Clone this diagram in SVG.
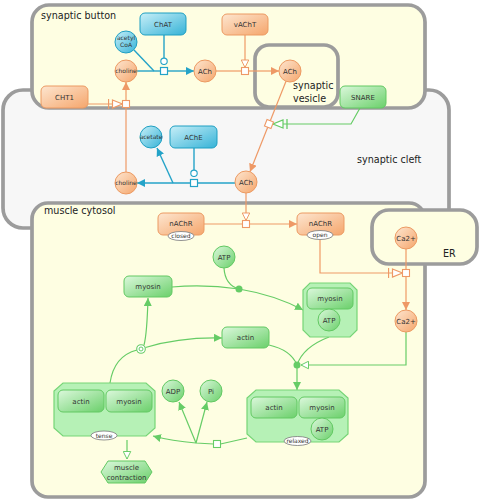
<svg xmlns="http://www.w3.org/2000/svg" width="479" height="500" viewBox="0 0 479 500">
<defs>
<style>
.comp{fill:#fefee2;stroke:#9c9c9c;stroke-width:3.7}
.cleft{fill:#f7f7f7;stroke:#9c9c9c;stroke-width:3.7}
.clbl{font-family:'DejaVu Sans',sans-serif;font-size:9.6px;fill:#222}
.o{fill:url(#gO);stroke:#ec9a62;stroke-width:1}
.b{fill:url(#gB);stroke:#1f9fc2;stroke-width:1}
.g{fill:url(#gG);stroke:#62c962;stroke-width:1}
.cx{fill:#b6f1b6;stroke:#76d576;stroke-width:1.2}
.t{font-family:'DejaVu Sans',sans-serif;font-size:7px;text-anchor:middle;fill:#333}
.ts{font-family:'DejaVu Sans',sans-serif;font-size:6px;text-anchor:middle;fill:#333}
.sv{fill:#fff;stroke:#777;stroke-width:0.8}
.lo{fill:none;stroke:#ee9966;stroke-width:1.2}
.lb{fill:none;stroke:#24a3c8;stroke-width:1.4}
.lg{fill:none;stroke:#66cc66;stroke-width:1.2}
.po{fill:#fff;stroke:#ee9966;stroke-width:1.1}
.pb{fill:#fff;stroke:#24a3c8;stroke-width:1.2}
.pg{fill:#fff;stroke:#66cc66;stroke-width:1.1}
</style>
<linearGradient id="gO" x1="0" y1="0" x2="1" y2="1"><stop offset="0" stop-color="#fde6d0"/><stop offset="1" stop-color="#f5a66c"/></linearGradient>
<linearGradient id="gB" x1="0" y1="0" x2="1" y2="1"><stop offset="0" stop-color="#c8eff8"/><stop offset="1" stop-color="#36b3d7"/></linearGradient>
<linearGradient id="gG" x1="0" y1="0" x2="1" y2="1"><stop offset="0" stop-color="#dcf8dc"/><stop offset="1" stop-color="#6bd06b"/></linearGradient>
<marker id="ao" viewBox="0 0 10 10" refX="10" refY="5" markerWidth="8" markerHeight="8" orient="auto" markerUnits="userSpaceOnUse"><path d="M0,0L10,5L0,10z" fill="#ee9966"/></marker>
<marker id="ab" viewBox="0 0 10 10" refX="10" refY="5" markerWidth="8" markerHeight="8" orient="auto" markerUnits="userSpaceOnUse"><path d="M0,0L10,5L0,10z" fill="#24a3c8"/></marker>
<marker id="ag" viewBox="0 0 10 10" refX="10" refY="5" markerWidth="8" markerHeight="8" orient="auto" markerUnits="userSpaceOnUse"><path d="M0,0L10,5L0,10z" fill="#66cc66"/></marker>
<marker id="so" viewBox="-1 -1 12 12" refX="10" refY="5" markerWidth="9" markerHeight="9" orient="auto" markerUnits="userSpaceOnUse"><path d="M0,0L10,5L0,10z" fill="#fff" stroke="#ee9966" stroke-width="1.3"/></marker>
<marker id="sg" viewBox="-1 -1 12 12" refX="10" refY="5" markerWidth="9" markerHeight="9" orient="auto" markerUnits="userSpaceOnUse"><path d="M0,0L10,5L0,10z" fill="#fff" stroke="#66cc66" stroke-width="1.3"/></marker>
<marker id="no" viewBox="-1 -1 16 12" refX="14" refY="5" markerWidth="16" markerHeight="12" orient="auto" markerUnits="userSpaceOnUse"><path d="M0,0V10" stroke="#ee9966" stroke-width="1.3"/><path d="M4,1L14,5L4,9z" fill="#fff" stroke="#ee9966" stroke-width="1.2"/></marker>
<marker id="ng" viewBox="-1 -1 16 12" refX="14" refY="5" markerWidth="16" markerHeight="12" orient="auto" markerUnits="userSpaceOnUse"><path d="M0,0V10" stroke="#66cc66" stroke-width="1.3"/><path d="M4,1L14,5L4,9z" fill="#fff" stroke="#66cc66" stroke-width="1.2"/></marker>
<marker id="cb" viewBox="0 0 10 10" refX="9" refY="5" markerWidth="8" markerHeight="8" orient="auto" markerUnits="userSpaceOnUse"><circle cx="5" cy="5" r="4" fill="#fff" stroke="#24a3c8" stroke-width="1.4"/></marker>
</defs>

<g id="compartments">
<rect id="synaptic-cleft" class="cleft" x="3" y="90" width="446" height="138" rx="20"/>
<rect id="synaptic-button" class="comp" x="32" y="5" width="393" height="103" rx="17"/>
<rect id="muscle-cytosol" class="comp" x="32" y="203" width="393" height="294" rx="16"/>
<rect id="ER" class="comp" x="372" y="210" width="105" height="54" rx="17"/>
<rect id="synaptic-vesicle" class="comp" x="255" y="45" width="83" height="62" rx="14"/>
<text class="clbl" x="41" y="19">synaptic button</text>
<text class="clbl" x="357" y="163">synaptic cleft</text>
<text class="clbl" x="44" y="214">muscle cytosol</text>
<text class="clbl" x="443" y="257">ER</text>
<text class="clbl" x="293" y="89">synaptic</text>
<text class="clbl" x="293" y="102">vesicle</text>
</g>

<g id="connectors">
<path class="lb" d="M137,71H160.5"/>
<path class="lb" d="M134,50L154,71"/>
<path class="lb" d="M167.5,71H194" marker-end="url(#ab)"/>
<path class="lb" d="M164,35V64.5" marker-end="url(#cb)"/>
<rect class="pb" x="160.5" y="67.5" width="7" height="7"/>
<path class="lo" d="M216,71H241.5"/>
<path class="lo" d="M248.5,71H279" marker-end="url(#ao)"/>
<path class="lo" d="M245,35V67.5" marker-end="url(#so)"/>
<rect class="po" x="241.5" y="67.5" width="7" height="7"/>
<path class="lo" d="M126,172V107.5"/>
<path class="lo" d="M126,100.5V82" marker-end="url(#ao)"/>
<path class="lo" d="M88,104H122.5" marker-end="url(#no)"/>
<rect class="po" x="122.5" y="100.5" width="7" height="7"/>
<path class="lo" d="M286,81.2L250,171.8" marker-end="url(#ao)"/>
<path class="lg" d="M360,108L351,124H273" marker-end="url(#ng)"/>
<rect class="po" x="265.5" y="120.5" width="7" height="7" transform="rotate(21.6 269 124)"/>
<path class="lb" d="M235,183H197.5"/>
<path class="lb" d="M190.5,183H137" marker-end="url(#ab)"/>
<path class="lb" d="M173,183L157,148" marker-end="url(#ab)"/>
<path class="lb" d="M194,148V176.5" marker-end="url(#cb)"/>
<rect class="pb" x="190.5" y="179.5" width="7" height="7"/>
<path class="lo" d="M204,224H242.5"/>
<path class="lo" d="M249.5,224H297" marker-end="url(#ao)"/>
<path class="lo" d="M246,193V220.5" marker-end="url(#so)"/>
<rect class="po" x="242.5" y="220.5" width="7" height="7"/>
<path class="lo" d="M406,249V269.5"/>
<path class="lo" d="M406,276.5V310" marker-end="url(#ao)"/>
<path class="lo" d="M320,240V273H402.5" marker-end="url(#no)"/>
<rect class="po" x="402.5" y="269.5" width="7" height="7"/>
<path class="lg" d="M172,287Q205,284 239,289"/>
<path class="lg" d="M224,268Q225,285 239,289"/>
<path class="lg" d="M239,289Q275,295 303,310" marker-end="url(#ag)"/>
<circle cx="239" cy="289" r="3.5" fill="#66cc66"/>
<path class="lg" d="M329,337Q303,347 297,365"/>
<path class="lg" d="M269,345Q291,350 297,365"/>
<path class="lg" d="M297,365V390" marker-end="url(#ag)"/>
<path class="lg" d="M406,332V365H301" marker-end="url(#sg)"/>
<circle cx="297" cy="365" r="3.5" fill="#66cc66"/>
<path class="lg" d="M247,438L220.5,444"/>
<path class="lg" d="M213.5,444L196,443Q172,441 153,436" marker-end="url(#ag)"/>
<path class="lg" d="M196,443L179,402" marker-end="url(#ag)"/>
<path class="lg" d="M196,443L207,402" marker-end="url(#ag)"/>
<rect class="pg" x="213.5" y="440.5" width="7" height="7"/>
<path class="lg" d="M110,383Q114,356 137,350"/>
<path class="lg" d="M144,345Q147,334 148,298" marker-end="url(#ag)"/>
<path class="lg" d="M145.5,347.5Q180,337 222,338" marker-end="url(#ag)"/>
<circle cx="141" cy="349" r="4.3" fill="#fff" stroke="#66cc66" stroke-width="1.1"/>
<circle cx="141" cy="349" r="2" fill="none" stroke="#66cc66" stroke-width="1"/>
<path class="lg" d="M127,440V459" marker-end="url(#sg)"/>
</g>

<g id="ChAT"><rect class="b" x="140" y="13" width="46" height="22" rx="5"/><text class="t" x="163" y="26.5">ChAT</text></g>
<g id="acetylCoA"><circle class="b" cx="126" cy="42" r="11"/><text class="ts" x="126" y="40" font-size="5.5">acetyl</text><text class="ts" x="126" y="47" font-size="5.5">CoA</text></g>
<g id="vAChT"><rect class="o" x="222" y="14" width="46" height="21" rx="5"/><text class="t" x="245" y="27">vAChT</text></g>
<g id="choline-button"><circle class="o" cx="126" cy="71" r="11"/><text class="ts" x="126" y="73">choline</text></g>
<g id="ACh-button"><circle class="o" cx="205" cy="71" r="11"/><text class="t" x="205" y="73.5" font-size="6.5">ACh</text></g>
<g id="ACh-vesicle"><circle class="o" cx="290" cy="71" r="11"/><text class="t" x="290" y="73.5" font-size="6.5">ACh</text></g>
<g id="CHT1"><rect class="o" x="41" y="86" width="47" height="22" rx="5"/><text class="t" x="64.5" y="99.5">CHT1</text></g>
<g id="SNARE"><rect class="g" x="340" y="86" width="46" height="22" rx="5"/><text class="t" x="363" y="99.5">SNARE</text></g>
<g id="acetate"><circle class="b" cx="151" cy="137" r="11"/><text class="ts" x="151" y="139" font-size="5.8">acetate</text></g>
<g id="AChE"><rect class="b" x="170" y="126" width="47" height="22" rx="5"/><text class="t" x="193.5" y="139.5">AChE</text></g>
<g id="choline-cleft"><circle class="o" cx="126" cy="183" r="11"/><text class="ts" x="126" y="185">choline</text></g>
<g id="ACh-cleft"><circle class="o" cx="246" cy="182" r="11"/><text class="t" x="246" y="184.5" font-size="6.5">ACh</text></g>
<g id="nAChR-closed"><rect class="o" x="158" y="213" width="46" height="22" rx="5"/><text class="t" x="181" y="226">nAChR</text><ellipse class="sv" cx="181" cy="236" rx="13" ry="4.5"/><text class="ts" x="181" y="238" font-size="5.5">closed</text></g>
<g id="nAChR-open"><rect class="o" x="297" y="213" width="47" height="22" rx="5"/><text class="t" x="320.5" y="226">nAChR</text><ellipse class="sv" cx="320" cy="235" rx="13" ry="4.5"/><text class="ts" x="320" y="237" font-size="5.5">open</text></g>
<g id="Ca-ER"><circle class="o" cx="406" cy="238" r="11"/><text class="t" x="406" y="240.5" font-size="6.5">Ca2+</text></g>
<g id="Ca-cytosol"><circle class="o" cx="406" cy="321" r="11"/><text class="t" x="406" y="323.5" font-size="6.5">Ca2+</text></g>
<g id="ATP"><circle class="g" cx="224" cy="257" r="11"/><text class="t" x="224" y="259.5">ATP</text></g>
<g id="myosin"><rect class="g" x="124" y="276" width="48" height="21" rx="5"/><text class="t" x="148" y="289">myosin</text></g>
<g id="myosin-ATP">
<path class="cx" d="M310,283H350L357,290V330L350,337H310L303,330V290Z"/>
<rect class="g" x="307" y="288" width="46" height="21" rx="5"/><text class="t" x="330" y="301">myosin</text>
<circle class="g" cx="329" cy="320" r="11"/><text class="t" x="329" y="322.5">ATP</text>
</g>
<g id="actin"><rect class="g" x="222" y="327" width="47" height="21" rx="5"/><text class="t" x="245.5" y="340">actin</text></g>
<g id="ADP"><circle class="g" cx="173" cy="391" r="11"/><text class="t" x="173" y="393.5">ADP</text></g>
<g id="Pi"><circle class="g" cx="211" cy="391" r="11"/><text class="t" x="211" y="393.5">Pi</text></g>
<g id="actomyosin-tense">
<path class="cx" d="M63,383H146L155,391V428L146,436H63L54,428V391Z"/>
<rect class="g" x="58" y="390" width="46" height="22" rx="5"/><text class="t" x="81" y="403.5">actin</text>
<rect class="g" x="106" y="390" width="46" height="22" rx="5"/><text class="t" x="129" y="403.5">myosin</text>
<ellipse class="sv" cx="104" cy="435.5" rx="13" ry="4.5"/><text class="ts" x="104" y="437.5" font-size="5.5">tense</text>
</g>
<g id="actomyosin-relaxed">
<path class="cx" d="M256,390H339L348,398V434L339,442H256L247,434V398Z"/>
<rect class="g" x="251" y="397" width="46" height="21" rx="5"/><text class="t" x="274" y="410">actin</text>
<rect class="g" x="299" y="397" width="46" height="21" rx="5"/><text class="t" x="322" y="410">myosin</text>
<circle class="g" cx="322" cy="429" r="11"/><text class="t" x="322" y="431.5">ATP</text>
<ellipse class="sv" cx="297.5" cy="441" rx="13.5" ry="4.5"/><text class="ts" x="297.5" y="443" font-size="5.5">relaxed</text>
</g>
<g id="muscle-contraction"><path class="g" d="M101,472L108,461H145L152,472L145,483H108Z"/><text class="t" x="126.5" y="470">muscle</text><text class="t" x="126.5" y="479.5">contraction</text></g>
</svg>
